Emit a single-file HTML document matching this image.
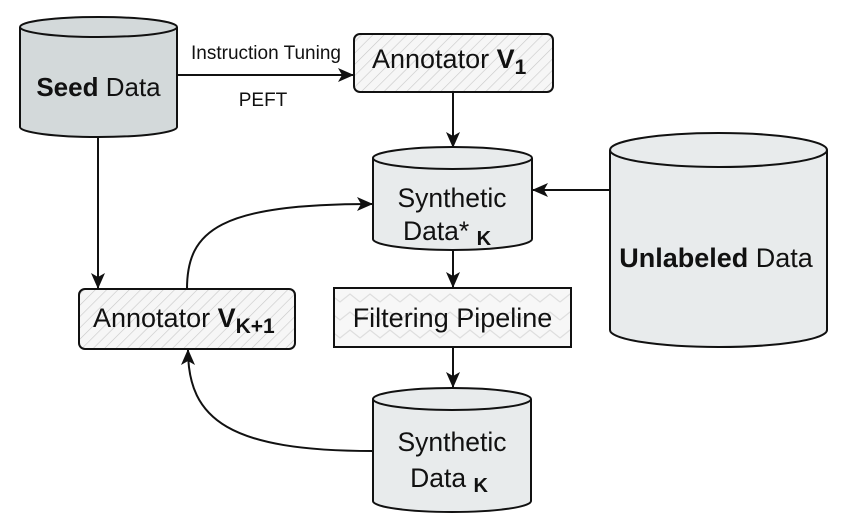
<!DOCTYPE html>
<html><head><meta charset="utf-8"><style>
html,body{margin:0;padding:0;background:#fff;}
svg{display:block;font-family:"Liberation Sans",Arial,sans-serif;}
</style></head><body>
<svg width="847" height="519" viewBox="0 0 847 519" xmlns="http://www.w3.org/2000/svg">
<defs>
<pattern id="hatch" width="8" height="8" patternUnits="userSpaceOnUse" patternTransform="rotate(45)">
<rect width="8" height="8" fill="#f6f6f6"/>
<line x1="0" y1="0" x2="0" y2="8" stroke="#c8c8c8" stroke-width="1.2"/>
</pattern>
<pattern id="zig" width="40" height="18" patternUnits="userSpaceOnUse">
<rect width="40" height="18" fill="#f7f7f7"/>
<path d="M0 14 L10 6 L20 14 L30 6 L40 14" fill="none" stroke="#dedede" stroke-width="1.2"/>
</pattern>
<marker id="ah" markerWidth="16" markerHeight="14" refX="15" refY="7" orient="auto" markerUnits="userSpaceOnUse" viewBox="0 0 16 14">
<path d="M0 0 L16 7 L0 14 L4 7 Z" fill="#111"/>
</marker>
</defs>
<g stroke="#111" stroke-width="2" fill="none">
<line x1="177" y1="75" x2="353" y2="75" marker-end="url(#ah)"/>
<line x1="453" y1="92" x2="453" y2="147" marker-end="url(#ah)"/>
<line x1="610" y1="190" x2="533" y2="190" marker-end="url(#ah)"/>
<line x1="98" y1="137" x2="98" y2="288" marker-end="url(#ah)"/>
<line x1="453" y1="250" x2="453" y2="287" marker-end="url(#ah)"/>
<line x1="453" y1="347" x2="453" y2="387" marker-end="url(#ah)"/>
<path d="M187 289 C187 230 220 204 372 204" marker-end="url(#ah)"/>
<path d="M373 451 C230 451 188 420 188 350" marker-end="url(#ah)"/>
</g>
<g stroke="#111" stroke-width="2">
<path d="M20 27 L20 127 A78.5 10 0 0 0 177 127 L177 27" fill="#d3d9da"/>
<ellipse cx="98.5" cy="27" rx="78.5" ry="10" fill="#d3d9da"/>
</g>
<text x="98.5" y="96" font-size="26" text-anchor="middle" fill="#111"><tspan font-weight="bold">Seed</tspan> Data</text>
<text x="266" y="59" font-size="19" text-anchor="middle" fill="#111">Instruction Tuning</text>
<text x="263" y="106" font-size="19" text-anchor="middle" fill="#111">PEFT</text>
<rect x="354" y="34" width="199" height="58" rx="6" fill="url(#hatch)" stroke="#111" stroke-width="2"/>
<text x="372" y="68" font-size="27" fill="#111">Annotator <tspan font-weight="bold">V</tspan><tspan font-weight="bold" font-size="21" dy="6">1</tspan></text>
<g stroke="#111" stroke-width="2">
<path d="M373 158 L373 239 A79.5 11 0 0 0 532 239 L532 158" fill="#e8ebec"/>
<ellipse cx="452.5" cy="158" rx="79.5" ry="11" fill="#e8ebec"/>
</g>
<text x="452" y="207" font-size="26.5" text-anchor="middle" fill="#111">Synthetic</text>
<text x="447" y="240" font-size="26.5" text-anchor="middle" fill="#111">Data* <tspan font-weight="bold" font-size="20" dy="5">K</tspan></text>
<g stroke="#111" stroke-width="2">
<path d="M610 150 L610 330 A108.5 17 0 0 0 827 330 L827 150" fill="#e8ebec"/>
<ellipse cx="718.5" cy="150" rx="108.5" ry="17" fill="#e8ebec"/>
</g>
<text x="716" y="267" font-size="27" text-anchor="middle" fill="#111"><tspan font-weight="bold">Unlabeled</tspan> Data</text>
<rect x="79" y="289" width="216" height="60" rx="6" fill="url(#hatch)" stroke="#111" stroke-width="2"/>
<text x="93" y="327" font-size="27" fill="#111">Annotator <tspan font-weight="bold">V</tspan><tspan font-weight="bold" font-size="21" dy="6">K+1</tspan></text>
<rect x="334" y="288" width="237" height="59" fill="url(#zig)" stroke="#111" stroke-width="2"/>
<text x="452.5" y="327" font-size="27" text-anchor="middle" fill="#111">Filtering Pipeline</text>
<g stroke="#111" stroke-width="2">
<path d="M373 399 L373 501 A79 11 0 0 0 531 501 L531 399" fill="#e8ebec"/>
<ellipse cx="452" cy="399" rx="79" ry="11" fill="#e8ebec"/>
</g>
<text x="452" y="451" font-size="26.5" text-anchor="middle" fill="#111">Synthetic</text>
<text x="449" y="487" font-size="26.5" text-anchor="middle" fill="#111">Data <tspan font-weight="bold" font-size="20" dy="5">K</tspan></text>
</svg>
</body></html>
